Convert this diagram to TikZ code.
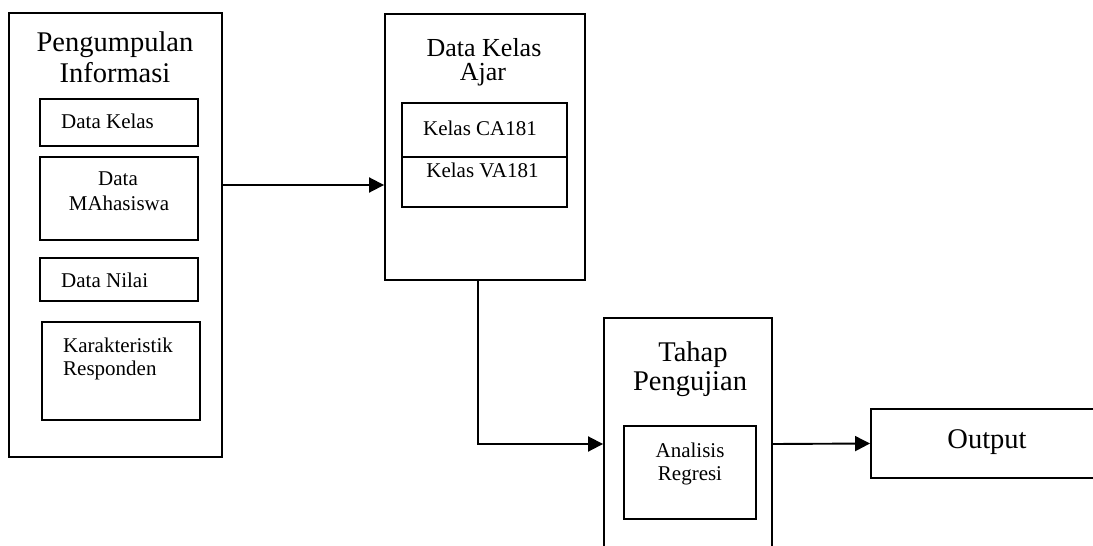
\documentclass[tikz,border=0pt]{standalone}
\usepackage{fontspec}
\setmainfont{Liberation Serif}
\usetikzlibrary{arrows.meta}
\tikzset{
  box/.style={draw, line width=1.9pt, inner sep=0pt, fill=none},
  arr/.style={line width=1.9pt, -{Triangle[length=15pt,width=15pt]}},
  big/.style={inner sep=0pt, font=\fontsize{28.5}{32}\selectfont},
  mid/.style={inner sep=0pt, font=\fontsize{26}{28}\selectfont},
  small/.style={inner sep=0pt, font=\fontsize{21}{24}\selectfont}
}
\begin{document}
\begin{tikzpicture}[x=1pt,y=-1pt]
\clip (0,0) rectangle (1093,546);
\fill[white] (0,0) rectangle (1093,546);
% boxes
\node[box, minimum width=213pt, minimum height=444pt] (peng) at (115.5,235) {};
\node[box, minimum width=158pt, minimum height=47pt] (dk) at (119,122.5) {};
\node[box, minimum width=158pt, minimum height=83pt] (dm) at (119,198.5) {};
\node[box, minimum width=158pt, minimum height=43pt] (dn) at (119,279.5) {};
\node[box, minimum width=158pt, minimum height=98pt] (kr) at (121,371) {};
\node[box, minimum width=200pt, minimum height=266pt] (dka) at (485,147) {};
\node[box, minimum width=165pt, minimum height=54pt] (ca) at (484.5,130) {};
\node[box, minimum width=165pt, minimum height=50pt] (va) at (484.5,182) {};
\node[box, minimum width=168pt, minimum height=252pt] (tahap) at (688,444) {};
\node[box, minimum width=132pt, minimum height=93pt] (ar) at (690,472.5) {};
\node[box, minimum width=239pt, minimum height=69pt] (out) at (990.5,443.5) {};
% texts
\node[big, anchor=base] (pgA) at (115,51) {Pengumpulan};
\node[big, anchor=base] (pgB) at (115,82) {Informasi};
\node[small, anchor=base west] (dkT) at (61,128) {Data Kelas};
\node[small, anchor=base] (dmA) at (118,185) {Data};
\node[small, anchor=base] (dmB) at (119,210) {MAhasiswa};
\node[small, anchor=base west] (dnT) at (61,287) {Data Nilai};
\node[small, anchor=base west] (krA) at (63,352) {Karakteristik};
\node[small, anchor=base west] (krB) at (63,375) {Responden};
\node[mid, anchor=base] (dkaA) at (484,56) {Data Kelas};
\node[mid, anchor=base] (dkaB) at (483,80) {Ajar};
\node[small, anchor=base] (caT) at (480,135) {Kelas CA181};
\node[small, anchor=base] (vaT) at (482.5,177) {Kelas VA181};
\node[big, anchor=base] (thA) at (693,361) {Tahap};
\node[big, anchor=base] (thB) at (690,390) {Pengujian};
\node[small, anchor=base] (arA) at (690,457) {Analisis};
\node[small, anchor=base] (arB) at (690,480) {Regresi};
\node[big, anchor=base] (outT) at (987,448) {Output};
% connectors
\draw[arr] ([yshift=50pt]peng.east) -- ([yshift=50pt]peng.east -| dka.west);
\draw[arr] ([xshift=-7pt]dka.south) |- (tahap.west);
\draw[arr] (tahap.east) -- (out.west);
\end{tikzpicture}
\end{document}
